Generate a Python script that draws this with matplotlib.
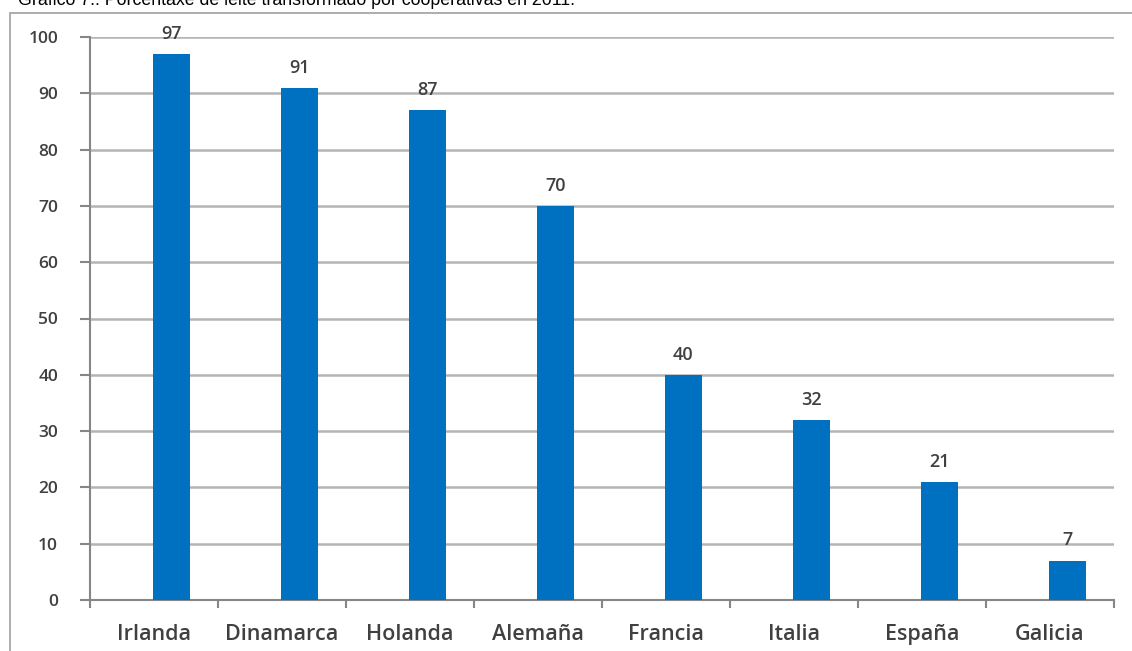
import matplotlib
matplotlib.use("Agg")
import matplotlib.pyplot as plt
from matplotlib.patches import Rectangle
from matplotlib.ticker import FixedLocator

categories = ["Irlanda", "Dinamarca", "Holanda", "Alemaña", "Francia", "Italia", "España", "Galicia"]
values = [97, 91, 87, 70, 40, 32, 21, 7]
yticks = [0, 10, 20, 30, 40, 50, 60, 70, 80, 90, 100]
title = "Gráfico 7.: Porcentaxe de leite transformado por cooperativas en 2011."

W, H = 1132, 651
fig = plt.figure(figsize=(W / 100, H / 100), dpi=100)
plt.rcParams['font.family'] = ['Open Sans', 'DejaVu Sans']

# outer frame
fig.patches.append(Rectangle((10 / W, -0.1), 1.2, 1 - 13 / H + 0.1, transform=fig.transFigure,
                             fill=False, edgecolor="#A0A0A0", linewidth=1.2))
fig.text(18 / W, 1 - 5 / H, title, family="Liberation Sans", fontsize=12.8, color="black",
         va="baseline", ha="left")

ax = fig.add_axes([90 / W, 1 - 600 / H, (1114 - 90) / W, (600 - 37) / H])
x = list(range(len(categories)))
bar_shift = 0.135
xb = [xi + bar_shift for xi in x]
ax.bar(xb, values, width=0.29, color="#0070C0", zorder=3)
ax.set_xlim(-0.5, len(categories) - 0.5)
ax.set_ylim(0, 100)
ax.set_yticks(yticks)
ax.set_yticklabels([str(t) for t in yticks], fontsize=12.5, color="#404040", fontweight="semibold")
ax.yaxis.grid(True, color="#B4B4B4", linewidth=1.8, zorder=0)
ax.set_xticks(x)
ax.set_xticklabels(categories, fontsize=15.5, color="#404040", fontweight="semibold")
ax.tick_params(axis="x", length=0, pad=17)
ax.xaxis.set_minor_locator(FixedLocator([i - 0.5 for i in range(len(categories) + 1)]))
ax.tick_params(axis="x", which="minor", length=6, color="#868686", width=1.5)
ax.tick_params(axis="y", length=7, color="#868686", width=1.5, pad=16)
for s in ["top", "right"]:
    ax.spines[s].set_visible(False)
for s in ["left", "bottom"]:
    ax.spines[s].set_color("#868686")
    ax.spines[s].set_linewidth(1.5)
for xi, v in zip(xb, values):
    ax.annotate(str(v), (xi, v), xytext=(0, 8), textcoords="offset points",
                ha="center", va="bottom", fontsize=13, color="#404040", fontweight="semibold")

fig.savefig("out.png", dpi=100)
